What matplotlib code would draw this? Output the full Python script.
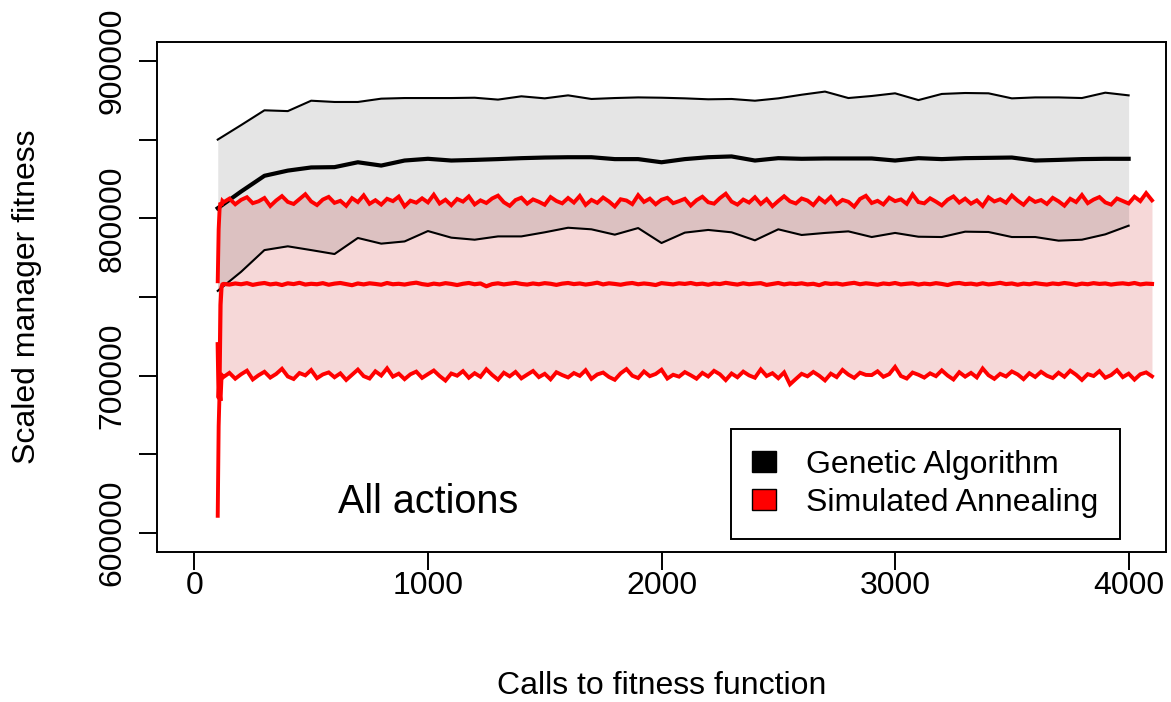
import matplotlib
matplotlib.use("Agg")
import matplotlib.pyplot as plt
from matplotlib.patches import Patch
import numpy as np

plt.rcParams['font.family'] = ['Liberation Sans', 'DejaVu Sans']

# Genetic algorithm: one value every 100 calls (100 .. 4000)
ga_calls = list(range(100, 4001, 100))
ga_upper = [850000, 859200, 868600, 868100, 874700, 873900, 873900, 876000, 876400, 876400,
            876400, 876600, 875400, 877500, 876200, 878100, 875800, 876400, 876800, 876600,
            876200, 875600, 875800, 874700, 876200, 878500, 880500, 876400, 877700, 879400,
            875100, 879000, 879600, 879400, 876200, 876800, 876800, 876400, 879800, 878100]
ga_mean = [806400, 817000, 827000, 830300, 832300, 832500, 835600, 833500, 836700, 837800,
           836700, 837100, 837600, 838200, 838600, 838800, 838800, 837600, 837600, 835600,
           837600, 838800, 839300, 836700, 838200, 837800, 838000, 838000, 838000, 836700,
           838200, 837600, 838200, 838400, 838600, 836700, 837100, 837600, 837800, 837800]
ga_lower = [753900, 766000, 779800, 782200, 779800, 777300, 787500, 783900, 785300, 791900,
            787700, 786400, 788500, 788500, 791100, 794000, 793000, 789600, 793800, 784300,
            790900, 792600, 791100, 786000, 793000, 789400, 790700, 791700, 788100, 790700,
            788300, 788100, 791500, 791300, 788100, 788100, 785800, 786400, 789800, 795300]

# Simulated annealing: start-up phase, then one value every 25 calls (125 .. 4100), in thousands
sa_calls = [100, 104, 108, 112, 116, 120] + list(range(125, 4101, 25))
sa_upper_k = [760, 793, 806, 810, 808, 811,
              810.2, 812.5, 808.9, 811.7, 813.4, 809.6, 810.8, 812.9, 807.8, 811.3, 814.1, 810.4, 809.1, 812.2, 815.3, 810.7, 808.4, 811.9, 813.6, 809.8,
              811.1, 807.9, 812.8, 810.3, 814.6, 809.2, 811.5, 808.7, 812.4, 810.9, 813.8, 807.6, 811.2, 809.9, 812.7, 810.1, 815.0, 809.4, 811.8, 808.3,
              812.3, 810.6, 813.9, 808.8, 811.4, 809.7, 812.6, 814.4, 810.2, 807.9, 811.6, 813.1, 809.3, 812.0, 810.5, 808.6, 813.5, 811.0, 809.5, 812.9,
              810.0, 814.2, 808.5, 811.7, 809.8, 813.2, 810.7, 807.5, 812.1, 811.3, 809.0, 814.7, 810.4, 812.5, 808.9, 811.8, 813.0, 809.6, 810.9, 812.4,
              808.1, 811.5, 813.7, 810.2, 809.3, 812.8, 815.6, 810.6, 808.7, 811.9, 810.0, 813.4, 809.1, 812.2, 807.7, 811.0, 814.0, 810.8, 809.4, 812.6,
              811.3, 808.4, 812.9, 810.1, 813.6, 809.0, 811.7, 810.5, 807.4, 812.3, 814.3, 809.7, 811.1, 808.8, 813.1, 810.9, 812.0, 809.2, 815.2, 810.3,
              809.5, 812.7, 810.6, 808.2, 811.8, 813.9, 810.0, 812.5, 809.3, 811.4, 807.8, 813.3, 810.7, 812.1, 809.9, 814.5, 811.2, 808.6, 812.8, 810.4,
              811.6, 809.1, 813.0, 810.8, 808.0, 812.4, 810.3, 814.8, 809.6, 811.9, 813.5, 810.1, 808.7, 812.6, 811.0, 809.4, 813.7, 810.9, 816.0, 811.4]
sa_mean_k = [720, 686, 700, 745, 756, 758,
             758.3, 757.9, 758.6, 758.1, 758.8, 757.7, 758.4, 758.9, 758.0, 758.5, 757.6, 758.7, 758.2, 759.0, 757.9, 758.4, 758.1, 758.8, 757.8, 758.5,
             758.9, 758.2, 757.5, 758.6, 758.0, 758.7, 758.3, 757.8, 758.9, 758.1, 758.4, 757.9, 758.6, 759.1, 758.2, 757.7, 758.5, 758.0, 758.8, 758.3,
             757.6, 758.4, 758.9, 758.1, 758.6, 756.8, 758.2, 758.7, 758.0, 758.5, 759.0, 758.3, 757.9, 758.6, 758.1, 758.8, 758.4, 757.7, 758.5, 758.9,
             758.2, 758.6, 757.9, 758.4, 759.1, 758.0, 758.7, 758.3, 757.8, 758.5, 758.9, 758.1, 758.6, 758.2, 757.6, 758.8, 758.4, 758.0, 758.7, 758.3,
             758.9, 758.1, 758.5, 757.8, 758.6, 758.2, 759.0, 758.4, 757.9, 758.7, 758.1, 758.5, 758.8, 757.7, 758.3, 758.9, 758.0, 758.6, 758.2, 758.7,
             758.0, 758.4, 757.5, 758.8, 758.3, 758.6, 757.9, 758.5, 759.0, 758.1, 758.7, 758.3, 757.8, 758.6, 758.2, 758.9, 758.0, 758.4, 758.7, 757.9,
             758.5, 758.1, 758.8, 758.3, 757.6, 758.6, 758.9, 758.2, 758.5, 757.9, 758.7, 758.0, 758.4, 759.0, 758.2, 758.6, 757.8, 758.5, 758.1, 758.8,
             758.3, 757.9, 758.6, 758.2, 758.9, 758.4, 757.7, 758.5, 758.1, 758.8, 758.3, 758.6, 757.9, 758.4, 758.7, 758.2, 758.9, 758.0, 758.5, 758.3]
sa_lower_k = [611, 668, 690, 684, 698, 700,
              699.2, 701.8, 698.1, 700.9, 703.2, 697.6, 700.3, 702.5, 698.8, 701.1, 704.4, 699.5, 697.9, 701.7, 700.2, 703.6, 698.4, 700.8, 702.1, 699.0,
              701.5, 697.3, 700.6, 703.9, 699.7, 698.2, 702.8, 700.1, 704.7, 699.4, 701.3, 697.8, 700.9, 702.6, 698.6, 701.0, 703.3, 699.8, 696.9, 701.4,
              700.0, 702.9, 698.7, 701.6, 699.3, 704.1, 700.5, 697.5, 701.9, 699.6, 702.4, 698.3, 700.7, 703.0, 699.1, 701.2, 697.7, 702.2, 700.4, 698.9,
              701.7, 699.9, 703.5, 698.0, 700.8, 702.0, 699.2, 697.4, 701.5, 704.2, 700.0, 698.5, 702.7, 699.7, 701.1, 703.8, 698.2, 700.6, 699.4, 702.3,
              700.3, 698.1, 701.8, 699.5, 703.1, 700.9, 697.2, 701.4, 699.0, 702.6, 700.2, 698.7, 704.0, 699.8, 701.6, 698.4, 702.1, 694.5, 697.9, 701.2,
              699.6, 702.4, 700.0, 697.0, 701.3, 699.1, 703.7, 700.7, 698.6, 701.9, 700.5, 700.4, 702.8, 699.3, 701.0, 705.6, 699.8, 698.2, 702.0, 700.6,
              698.8, 701.5, 699.7, 703.4, 700.1, 697.6, 702.2, 699.4, 701.8, 698.9, 704.6, 700.3, 698.0, 701.2, 699.5, 702.7, 700.8, 697.8, 701.6, 699.2,
              702.5, 700.0, 698.5, 701.9, 699.3, 703.2, 700.6, 697.3, 701.0, 699.8, 702.9, 698.7, 700.4, 703.5, 699.1, 701.3, 697.5, 700.9, 702.1, 699.6]

sa_upper = np.array(sa_upper_k) * 1000
sa_mean = np.array(sa_mean_k) * 1000
sa_lower = np.array(sa_lower_k) * 1000

x_ticks = [0, 1000, 2000, 3000, 4000]
y_ticks = list(range(600000, 900001, 50000))
y_labels = ["600000", "", "700000", "", "800000", "", "900000"]

fig = plt.figure(figsize=(11.71, 7.02), dpi=100)
ax = fig.add_axes([157 / 1171, 1 - 552 / 702, (1166 - 157) / 1171, (552 - 42) / 702])

# shaded ranges (SA first, GA grey laid over it)
ax.fill_between(sa_calls, sa_lower, sa_upper, color="#F6D8D8", linewidth=0)
ax.fill_between(ga_calls, ga_lower, ga_upper, color=(0, 0, 0, 0.1), linewidth=0)

# GA lines
ax.plot(ga_calls, ga_upper, color="black", lw=1.5)
ax.plot(ga_calls, ga_lower, color="black", lw=1.5)
ax.plot(ga_calls, ga_mean, color="black", lw=3)

# SA lines
ax.plot(sa_calls, sa_upper, color="red", lw=2.8, solid_joinstyle="miter")
ax.plot(sa_calls, sa_lower, color="red", lw=2.8, solid_joinstyle="miter")
ax.plot(sa_calls, sa_mean, color="red", lw=3.0)

ax.set_xlim(-160, 4160)
ax.set_ylim(588000, 912000)
ax.set_xticks(x_ticks)
ax.set_xticklabels([str(v) for v in x_ticks])
ax.set_yticks(y_ticks)
ax.set_yticklabels(y_labels, rotation=90, va="center")

for s in ax.spines.values():
    s.set_linewidth(1.4)
ax.tick_params(axis="both", length=13, width=1.4, labelsize=23, direction="out")
ax.tick_params(axis="x", pad=1)
ax.tick_params(axis="y", pad=8)

ax.set_xlabel("Calls to fitness function", fontsize=23, va="center")
ax.xaxis.set_label_coords(0.5, (552 - 686) / 510)
ax.set_ylabel("Scaled manager fitness", fontsize=23, va="center")
ax.yaxis.set_label_coords((27 - 157) / 1009, 0.5)

ax.text(1000, 620000, "All actions", fontsize=28.5, ha="center", va="center")

handles = [Patch(facecolor="black", edgecolor="black"),
           Patch(facecolor="red", edgecolor="black")]
leg = ax.legend(handles, ["Genetic Algorithm", "Simulated Annealing"], loc="lower right",
                bbox_to_anchor=(0.954, 0.0255), fontsize=23, frameon=True, fancybox=False,
                edgecolor="black", framealpha=1, handlelength=0.75, handleheight=0.66,
                handletextpad=0.94, borderpad=0.66, labelspacing=0.26, borderaxespad=0)
leg.get_frame().set_linewidth(1.4)

fig.savefig("out.png", dpi=100)
